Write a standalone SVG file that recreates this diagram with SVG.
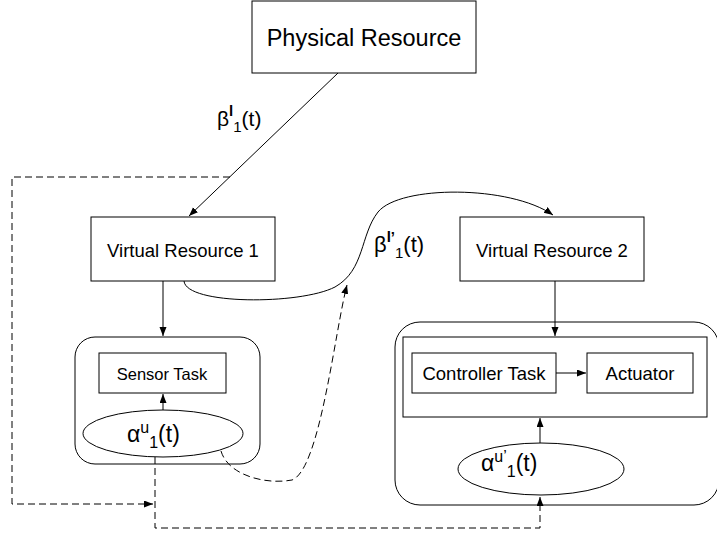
<svg xmlns="http://www.w3.org/2000/svg" width="717" height="538" viewBox="0 0 717 538">
<style>
.box{fill:#fff;stroke:#000;stroke-width:1}
.ln{fill:none;stroke:#000;stroke-width:1}
.dash{fill:none;stroke:#000;stroke-width:1;stroke-dasharray:7,4}
text{font-family:"Liberation Sans",Arial,sans-serif;fill:#000}
.lbl{font-size:18.5px;text-anchor:middle}
.math{font-size:23px}
.sm{font-size:16px}
.beta{font-size:21px}
.bsm{font-size:15px}
</style>
<defs>
<marker id="ah" markerUnits="userSpaceOnUse" markerWidth="10" markerHeight="8" refX="9" refY="3.5" orient="auto">
<path d="M0,0 L9,3.5 L0,7 z" fill="#000"/>
</marker>
</defs>
<rect width="717" height="538" fill="#fff"/>

<g id="physical-resource">
<rect class="box" x="252" y="1" width="224" height="72"/>
<text x="364" y="46" style="font-size:23.5px;text-anchor:middle">Physical Resource</text>
</g>

<g id="virtual-resource-1">
<rect class="box" x="91" y="217" width="184" height="64"/>
<text class="lbl" x="183" y="257">Virtual Resource 1</text>
</g>

<g id="virtual-resource-2">
<rect class="box" x="460" y="217" width="184" height="64"/>
<text class="lbl" x="552" y="257">Virtual Resource 2</text>
</g>

<g id="sensor-node">
<rect class="box" x="75" y="337" width="185" height="127" rx="20"/>
<g id="sensor-task">
<rect class="box" x="99" y="353" width="127" height="40"/>
<text x="162" y="380" style="font-size:16.5px;text-anchor:middle">Sensor Task</text>
</g>
<g id="alpha-u1">
<ellipse class="box" cx="163" cy="433.5" rx="80" ry="23.5"/>
<text class="math" x="127" y="442">α<tspan class="sm" dy="-9">u</tspan><tspan class="sm" dy="15">1</tspan><tspan dy="-6">(t)</tspan></text>
</g>
</g>

<g id="controller-node">
<rect class="box" x="395" y="322" width="324" height="183" rx="25"/>
<rect class="box" x="403" y="337" width="304" height="80"/>
<g id="controller-task">
<rect class="box" x="412" y="353" width="144" height="40"/>
<text class="lbl" x="484" y="380">Controller Task</text>
</g>
<g id="actuator">
<rect class="box" x="587" y="353" width="106" height="40"/>
<text class="lbl" x="640" y="380">Actuator</text>
</g>
<g id="alpha-u1-prime">
<ellipse class="box" cx="541" cy="469" rx="83" ry="26"/>
<text class="math" x="481" y="471">α<tspan class="sm" dy="-9">u’</tspan><tspan class="sm" dy="15">1</tspan><tspan dy="-6">(t)</tspan></text>
</g>
</g>

<g id="labels">
<text class="beta" x="217" y="126">β<tspan class="bsm" dy="-10" font-weight="bold">l</tspan><tspan class="bsm" dy="16">1</tspan><tspan dy="-6">(t)</tspan></text>
<text class="beta" x="374" y="252" style="font-size:22px">β<tspan class="bsm" dy="-10" font-weight="bold">l’</tspan><tspan class="bsm" dy="16">1</tspan><tspan dy="-6">(t)</tspan></text>
</g>

<g id="connectors">
<line class="ln" x1="338" y1="73" x2="189" y2="216" marker-end="url(#ah)"/>
<polyline class="dash" points="230,177 12,177 12,504 153,504" marker-end="url(#ah)"/>
<polyline class="dash" points="155,457 155,528 540,528 540,497" marker-end="url(#ah)"/>
<line class="ln" x1="163" y1="281" x2="163" y2="336" marker-end="url(#ah)"/>
<line class="ln" x1="163" y1="410" x2="163" y2="394" marker-end="url(#ah)"/>
<line class="ln" x1="555" y1="281" x2="555" y2="336" marker-end="url(#ah)"/>
<line class="ln" x1="556" y1="373" x2="586" y2="373" marker-end="url(#ah)"/>
<line class="ln" x1="540" y1="443" x2="540" y2="418" marker-end="url(#ah)"/>
<path class="ln" d="M184,281 C186,305 300,305 335,287 C365,270 360,235 378,212 C400,185 510,185 553,215" marker-end="url(#ah)"/>
<path class="dash" d="M221,451 C228,475 265,485 292,480 C320,470 335,330 347,285" marker-end="url(#ah)"/>
</g>
</svg>
